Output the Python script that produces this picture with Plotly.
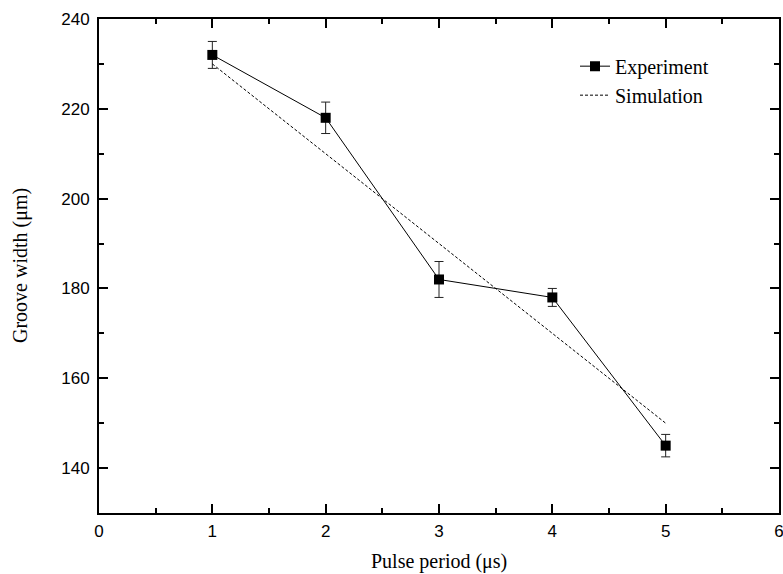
import plotly.graph_objects as go

pulse_period = [1, 2, 3, 4, 5]
exp_width = [232, 218, 182, 178, 145]
exp_err = [3, 3.5, 4, 2, 2.5]
sim_width = [230, 210, 190, 170, 150]

x_title = "Pulse period (\u03bcs)"
y_title = "Groove width (\u03bcm)"

serif = "Liberation Serif"
sans = "Liberation Sans"

fig = go.Figure()
fig.add_trace(go.Scatter(
    x=pulse_period, y=exp_width, name="Experiment",
    mode="lines+markers",
    line=dict(color="black", width=1),
    marker=dict(symbol="square", size=10, color="black"),
    error_y=dict(type="data", array=exp_err, visible=True,
                 color="#222222", thickness=1, width=4.5),
))
fig.add_trace(go.Scatter(
    x=pulse_period, y=sim_width, name="Simulation",
    mode="lines",
    line=dict(color="black", width=1, dash="3px,2px"),
))

axis_common = dict(
    showline=True, linecolor="black", linewidth=2,
    mirror="allticks", ticks="inside", ticklen=9, tickwidth=1.5,
    tickcolor="black", showgrid=False, zeroline=False, automargin=False,
    ticklabeloverflow="allow",
    tickfont=dict(family=sans, size=17, color="black"),
)

fig.update_xaxes(
    range=[0, 6], dtick=1, tick0=0, ticklabelstandoff=2,
    minor=dict(ticks="inside", ticklen=5, dtick=0.5, tickwidth=1.5,
               tickcolor="black", showgrid=False),
    **axis_common,
)
fig.update_yaxes(
    range=[130, 240], dtick=20, tick0=0, ticklabelstandoff=4,
    minor=dict(ticks="inside", ticklen=5, dtick=10, tickwidth=1.5,
               tickcolor="black", showgrid=False),
    **axis_common,
)

fig.add_annotation(text=x_title, xref="paper", yref="paper", x=0.5, y=0,
                   xanchor="center", yanchor="middle", yshift=-48,
                   showarrow=False,
                   font=dict(family=serif, size=20, color="black"))
fig.add_annotation(text=y_title, xref="paper", yref="paper", x=0, y=0.5,
                   xanchor="center", yanchor="middle", xshift=-79,
                   textangle=-90, showarrow=False,
                   font=dict(family=serif, size=20, color="black"))

fig.update_layout(
    width=783, height=574,
    margin=dict(l=99, r=4, t=19, b=61),
    plot_bgcolor="white", paper_bgcolor="white",
    showlegend=True,
    legend=dict(x=0.70, y=0.944, xanchor="left", yanchor="top",
                bgcolor="rgba(0,0,0,0)", tracegroupgap=0,
                font=dict(family=serif, size=20, color="black")),
)

fig.write_html("out.html", config={"displayModeBar": False},
               post_script="document.body.style.margin='0';document.body.style.overflow='hidden';")
